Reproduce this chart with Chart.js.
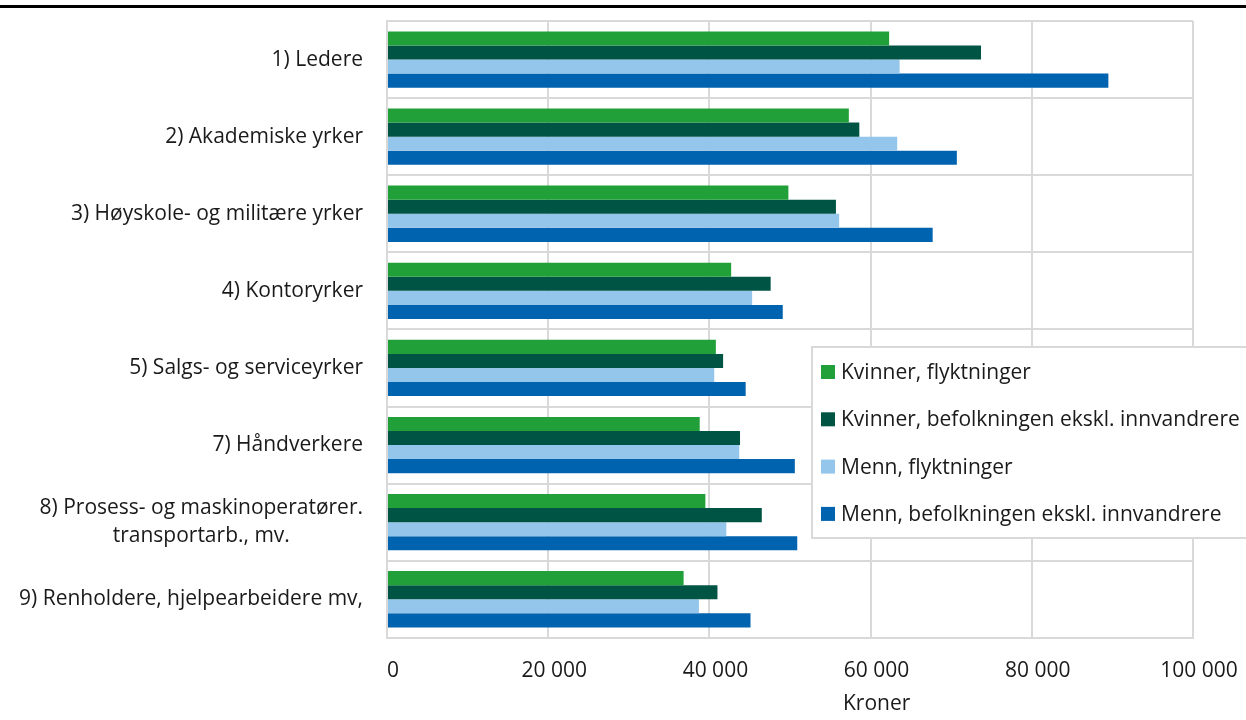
<!DOCTYPE html>
<html>
<head>
<meta charset="utf-8">
<script src="https://cdn.jsdelivr.net/npm/chart.js@4.4.1/dist/chart.umd.min.js"></script>
<style>
    html, body { margin: 0; padding: 0; background: #fff; }
    #ramme { width: 1246px; height: 720px; position: relative; }
</style>
</head>
<body>
<div id="ramme"><canvas id="grafikk"></canvas></div>
<script>
const kategorier = [
    '1) Ledere',
    '2) Akademiske yrker',
    '3) Høyskole- og militære yrker',
    '4) Kontoryrker',
    '5) Salgs- og serviceyrker',
    '7) Håndverkere',
    ['8) Prosess- og maskinoperatører.', 'transportarb., mv.'],
    '9) Renholdere, hjelpearbeidere mv,'
];

const kvinnerFlyktninger = [62300, 57300, 49800, 42700, 40800, 38800, 39500, 36800];
const kvinnerBefolkningen = [73700, 58600, 55700, 47600, 41700, 43800, 46500, 41000];
const mennFlyktninger = [63600, 63300, 56100, 45300, 40600, 43700, 42100, 38700];
const mennBefolkningen = [89500, 70700, 67700, 49100, 44500, 50600, 50900, 45100];

const serieNavn = [
    'Kvinner, flyktninger',
    'Kvinner, befolkningen ekskl. innvandrere',
    'Menn, flyktninger',
    'Menn, befolkningen ekskl. innvandrere'
];
const serieFarger = ['#21a03a', '#005444', '#94c6eb', '#0063af'];

const aksetittel = 'Kroner';
const tekstFarge = '#1a1a1a';
const rutenettFarge = '#d9d9d9';
const skrift = '"Open Sans"';

function formaterKroner(verdi) {
    return String(verdi).replace(/\B(?=(\d{3})+(?!\d))/g, ' ');
}

// Strek øverst på siden
const toppStrek = {
    id: 'toppStrek',
    afterDraw(chart) {
        const ctx = chart.ctx;
        ctx.save();
        ctx.fillStyle = '#000';
        ctx.fillRect(0, 5, chart.width, 3);
        ctx.restore();
    }
};

// Kategorietiketter, flerlinjede sentreres mot hverandre
const kategoriEtiketter = {
    id: 'kategoriEtiketter',
    afterDraw(chart) {
        const ctx = chart.ctx;
        const skala = chart.scales.y;
        const hoyreKant = chart.chartArea.left - 24;
        ctx.save();
        ctx.font = '21px ' + skrift;
        ctx.fillStyle = tekstFarge;
        ctx.textAlign = 'center';
        ctx.textBaseline = 'middle';
        kategorier.forEach((etikett, i) => {
            const linjer = Array.isArray(etikett) ? etikett : [etikett];
            const midt = skala.getPixelForValue(i);
            const bredest = Math.max(...linjer.map(l => ctx.measureText(l).width));
            const senter = hoyreKant - bredest / 2;
            linjer.forEach((linje, j) => {
                const yy = midt + (j - (linjer.length - 1) / 2) * 28;
                ctx.fillText(linje, senter, yy);
            });
        });
        ctx.restore();
    }
};

// Aksetittel plassert under 60 000-etiketten, slik som i originalen
const aksetittelTegner = {
    id: 'aksetittelTegner',
    afterDraw(chart) {
        const ctx = chart.ctx;
        const x = chart.scales.x.getPixelForValue(60000) + 6;
        ctx.save();
        ctx.font = '21px ' + skrift;
        ctx.fillStyle = tekstFarge;
        ctx.textAlign = 'center';
        ctx.textBaseline = 'middle';
        ctx.fillText(aksetittel, x, 704);
        ctx.restore();
    }
};

// Forklaring i boks oppå plottet
const forklaringBoks = {
    id: 'forklaringBoks',
    afterDraw(chart) {
        const ctx = chart.ctx;
        const venstre = 812;
        const topp = 347;
        const hoyde = 191;
        ctx.save();
        ctx.fillStyle = '#fff';
        ctx.fillRect(venstre, topp, chart.width - venstre + 5, hoyde);
        ctx.strokeStyle = rutenettFarge;
        ctx.lineWidth = 2;
        ctx.strokeRect(venstre, topp, chart.width - venstre + 5, hoyde);
        ctx.font = '21px ' + skrift;
        ctx.textAlign = 'left';
        ctx.textBaseline = 'middle';
        chart.data.datasets.forEach((ds, i) => {
            const yy = topp + 25 + i * 47.3;
            ctx.fillStyle = ds.backgroundColor;
            ctx.fillRect(venstre + 9, yy - 7, 14, 14);
            ctx.fillStyle = tekstFarge;
            ctx.fillText(ds.label, venstre + 29, yy + 1);
        });
        ctx.restore();
    }
};

const serier = [kvinnerFlyktninger, kvinnerBefolkningen, mennFlyktninger, mennBefolkningen];

function tegnGrafikk() {
    Chart.defaults.font.family = skrift;

    new Chart(document.getElementById('grafikk'), {
        type: 'bar',
        data: {
            labels: kategorier,
            datasets: serier.map((data, i) => ({
                label: serieNavn[i],
                data,
                backgroundColor: serieFarger[i],
                borderWidth: 0,
                barPercentage: 1,
                categoryPercentage: 0.73
            }))
        },
        options: {
            indexAxis: 'y',
            responsive: true,
            maintainAspectRatio: false,
            animation: false,
            layout: {
                padding: { top: 21, right: 53, bottom: 4, left: 0 }
            },
            plugins: {
                legend: { display: false },
                tooltip: { enabled: false }
            },
            scales: {
                x: {
                    min: 0,
                    max: 100000,
                    ticks: {
                        stepSize: 20000,
                        color: tekstFarge,
                        font: { size: 21 },
                        padding: 21,
                        labelOffset: 6,
                        maxRotation: 0,
                        callback(verdi) {
                            return formaterKroner(verdi);
                        }
                    },
                    grid: {
                        color: rutenettFarge,
                        lineWidth: 2,
                        drawTicks: false
                    },
                    border: { color: rutenettFarge, width: 2 },
                    title: {
                        display: true,
                        text: aksetittel,
                        color: 'rgba(0,0,0,0)',
                        font: { size: 20 },
                        padding: { top: -13, bottom: 0 }
                    },
                    afterFit(skala) {
                        skala.paddingLeft = 0;
                        skala.paddingRight = 0;
                    }
                },
                y: {
                    offset: true,
                    ticks: { display: false },
                    grid: {
                        offset: true,
                        color: rutenettFarge,
                        lineWidth: 2,
                        drawTicks: false
                    },
                    border: { color: rutenettFarge, width: 2 },
                    afterFit(skala) {
                        skala.width = 387;
                    }
                }
            }
        },
        plugins: [toppStrek, kategoriEtiketter, aksetittelTegner, forklaringBoks]
    });
}

document.fonts.load('21px ' + skrift).then(tegnGrafikk, tegnGrafikk);
</script>
</body>
</html>
